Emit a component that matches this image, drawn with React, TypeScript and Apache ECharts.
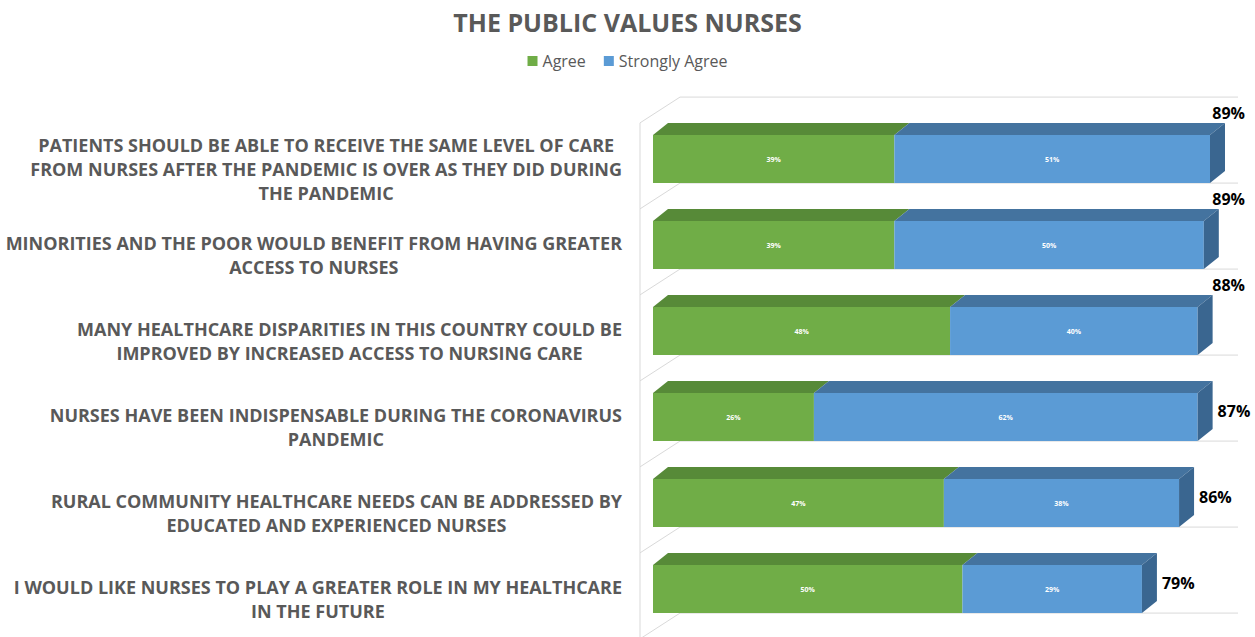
import React, { useEffect, useRef } from 'react';
import * as echarts from 'echarts';

const chartTitle = 'THE PUBLIC VALUES NURSES';
const seriesNames = ['Agree', 'Strongly Agree'];
const categories = [
  'PATIENTS SHOULD BE ABLE TO RECEIVE THE SAME LEVEL OF CARE\nFROM NURSES AFTER THE PANDEMIC IS OVER AS THEY DID DURING\nTHE PANDEMIC',
  'MINORITIES AND THE POOR WOULD BENEFIT FROM HAVING GREATER\nACCESS TO NURSES',
  'MANY HEALTHCARE DISPARITIES IN THIS COUNTRY COULD BE\nIMPROVED BY INCREASED ACCESS TO NURSING CARE',
  'NURSES HAVE BEEN INDISPENSABLE DURING THE CORONAVIRUS\nPANDEMIC',
  'RURAL COMMUNITY HEALTHCARE NEEDS CAN BE ADDRESSED BY\nEDUCATED AND EXPERIENCED NURSES',
  'I WOULD LIKE NURSES TO PLAY A GREATER ROLE IN MY HEALTHCARE\nIN THE FUTURE',
];
const agree = [39, 39, 48, 26, 47, 50];
const stronglyAgree = [51, 50, 40, 62, 38, 29];
const totals = [89, 89, 88, 87, 86, 79];

const FONT = '"Open Sans", "DejaVu Sans", sans-serif';
const GREEN = { front: '#70AD47', top: '#578A38' };
const BLUE = { front: '#5B9BD5', top: '#44739F', side: '#3A6690' };
const DX = 15;
const DY = 12;

export default function App() {
  const ref = useRef<HTMLDivElement>(null);

  useEffect(() => {
    const chart = echarts.init(ref.current as HTMLDivElement, null, { renderer: 'svg' });

    const makeBar = (colors: any, isLast: boolean) => (params: any, api: any) => {
      const cat = api.value(0);
      const start = api.value(1);
      const end = api.value(2);
      const a = api.coord([start, cat]);
      const b = api.coord([end, cat]);
      const band = api.size([0, 1])[1];
      const h = band * 0.56;
      const yTop = a[1] - h / 2;
      const yBot = a[1] + h / 2;
      const x0 = a[0];
      const x1 = b[0];
      const children: any[] = [
        {
          type: 'polygon',
          shape: { points: [[x0, yTop], [x0 + DX, yTop - DY], [x1 + DX, yTop - DY], [x1, yTop]] },
          style: { fill: colors.top },
        },
        {
          type: 'rect',
          shape: { x: x0, y: yTop, width: x1 - x0, height: h },
          style: { fill: colors.front },
        },
        {
          type: 'text',
          x: (x0 + x1) / 2,
          y: a[1],
          style: {
            text: `${end - start}%`,
            fill: '#ffffff',
            fontSize: 7,
            fontWeight: 'bold',
            fontFamily: FONT,
            align: 'center',
            verticalAlign: 'middle',
          },
        },
      ];
      if (isLast) {
        children.push({
          type: 'polygon',
          shape: { points: [[x1, yTop], [x1 + DX, yTop - DY], [x1 + DX, yBot - DY], [x1, yBot]] },
          style: { fill: colors.side },
        });
        const idx = params.dataIndex;
        const total = totals[idx];
        const above = total >= 88;
        children.push({
          type: 'text',
          x: above ? api.getWidth() - 10 : x1 + 20,
          y: above ? yTop - 22 : a[1] - 6,
          style: {
            text: `${total}%`,
            fill: '#000000',
            fontSize: 16,
            fontWeight: 'bold',
            fontFamily: FONT,
            align: above ? 'right' : 'left',
            verticalAlign: 'middle',
          },
        });
      }
      return { type: 'group', children };
    };

    const renderWalls = (params: any, api: any) => {
      const k = api.value(0);
      const p = api.coord([0, k]);
      const c = p[1];
      const x0 = p[0];
      const band = api.size([0, 1])[1];
      const xEnd = params.coordSys.x + params.coordSys.width + 28;
      const style = { stroke: '#D9D9D9', lineWidth: 1, fill: null };
      const children: any[] = [
        {
          type: 'polyline',
          shape: { points: [[x0 - 13, c - band * 0.42], [x0 + 27, c - band * 0.72], [xEnd, c - band * 0.72]] },
          style,
        },
        {
          type: 'line',
          shape: { x1: x0 - 13, y1: c - band * 0.42, x2: x0 - 13, y2: c + band * 0.58 },
          style,
        },
      ];
      if (k === categories.length - 1) {
        children.push({
          type: 'polyline',
          shape: { points: [[x0 - 13, c + band * 0.58], [x0 + 27, c + band * 0.28], [xEnd, c + band * 0.28]] },
          style,
        });
      }
      return { type: 'group', children };
    };

    const option: any = {
      animation: false,
      backgroundColor: '#ffffff',
      color: [GREEN.front, BLUE.front],
      title: {
        text: chartTitle,
        left: 'center',
        top: 4,
        textStyle: { fontSize: 25, fontWeight: 'bold', color: '#595959', fontFamily: FONT },
      },
      legend: {
        top: 48,
        left: 'center',
        icon: 'rect',
        itemWidth: 10,
        itemHeight: 10,
        itemGap: 18,
        data: seriesNames,
        textStyle: { fontSize: 16, color: '#595959', fontFamily: FONT },
      },
      grid: { left: 653, right: 45, top: 116, bottom: 5, containLabel: false },
      xAxis: { type: 'value', min: 0, max: 90, show: false },
      yAxis: {
        type: 'category',
        inverse: true,
        data: categories,
        axisLine: { show: false },
        axisTick: { show: false },
        splitLine: { show: false },
        axisLabel: {
          margin: 31,
          padding: [20, 0, 0, 0],
          formatter: (v: string) => v.split('\n').map((l) => `{c|${l}}`).join('\n'),
          rich: {
            c: {
              align: 'center',
              fontSize: 18,
              fontWeight: 'bold',
              color: '#595959',
              fontFamily: FONT,
              lineHeight: 24,
            },
          },
        },
      },
      series: [
        {
          name: 'walls',
          type: 'custom',
          silent: true,
          z: 1,
          clip: false,
          renderItem: renderWalls,
          encode: { x: 1, y: 0 },
          data: categories.map((_, i) => [i, 0]),
        },
        {
          name: seriesNames[0],
          type: 'custom',
          z: 2,
          clip: false,
          itemStyle: { color: GREEN.front },
          renderItem: makeBar(GREEN, false),
          encode: { x: [1, 2], y: 0 },
          data: agree.map((v, i) => [i, 0, v]),
        },
        {
          name: seriesNames[1],
          type: 'custom',
          z: 3,
          clip: false,
          itemStyle: { color: BLUE.front },
          renderItem: makeBar(BLUE, true),
          encode: { x: [1, 2], y: 0 },
          data: stronglyAgree.map((v, i) => [i, agree[i], agree[i] + v]),
        },
      ],
    };

    chart.setOption(option);
    return () => chart.dispose();
  }, []);

  return (
    <div
      ref={ref}
      style={{ position: 'fixed', left: 0, top: 0, width: 1255, height: 637, background: '#fff' }}
    />
  );
}
